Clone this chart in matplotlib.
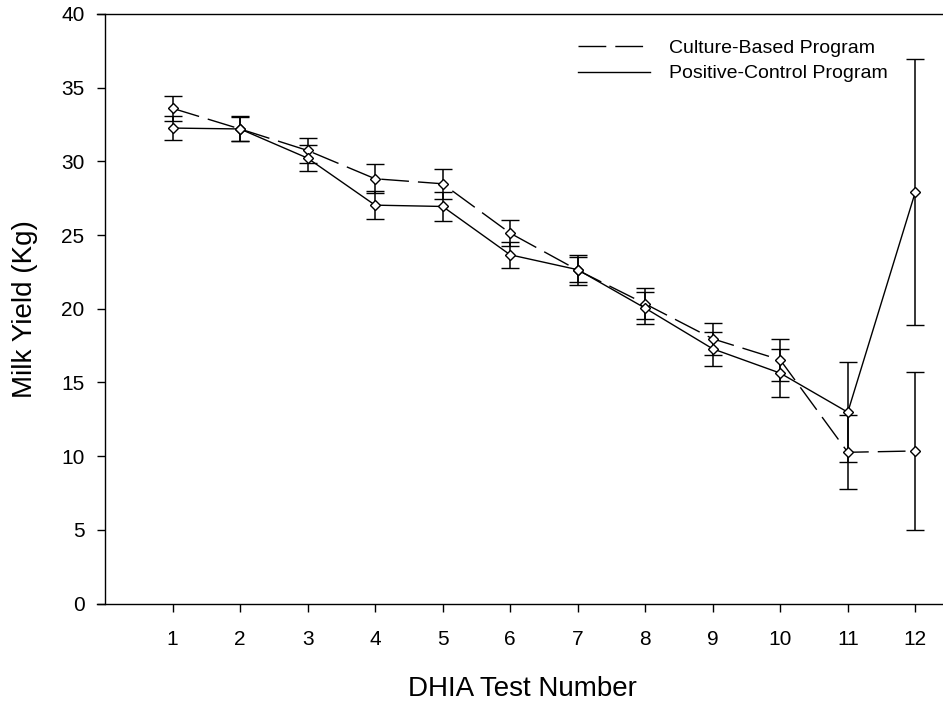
import matplotlib
matplotlib.use("Agg")
from matplotlib import pyplot as plt
from matplotlib.lines import Line2D
import numpy as np

plt.rcParams['font.family'] = ['Liberation Sans', 'DejaVu Sans']

# DHIA test numbers
tests = [1, 2, 3, 4, 5, 6, 7, 8, 9, 10, 11, 12]

# culture-based program (dashed)
culture = [33.6, 32.2, 30.74, 28.82, 28.48, 25.13, 22.62, 20.33, 17.96, 16.53, 10.26, 10.35]
culture_err = [0.83, 0.85, 0.88, 0.97, 1.0, 0.9, 1.02, 1.05, 1.1, 1.45, 2.5, 5.33]

# positive-control program (solid)
control = [32.26, 32.2, 30.22, 27.03, 26.94, 23.66, 22.65, 20.04, 17.28, 15.63, 12.98, 27.92]
control_err = [0.79, 0.8, 0.86, 0.97, 0.99, 0.9, 0.86, 1.08, 1.17, 1.62, 3.41, 9.02]

labels = ["Culture-Based Program", "Positive-Control Program"]

fig = plt.figure(figsize=(9.43, 7.04), dpi=100)
ax = fig.add_axes([105/943, (704-603.5)/704, 838/943, 589.5/704])

dash = (0, (20, 6.5))
ax.errorbar(tests, culture, yerr=culture_err, color="black", lw=1.0, ls=dash,
            marker="D", ms=4.6, mfc="white", mec="black", mew=1.0,
            elinewidth=1.1, capsize=6.5, capthick=1.1, zorder=3)
ax.errorbar(tests, control, yerr=control_err, color="black", lw=1.0, ls="-",
            marker="D", ms=4.6, mfc="white", mec="black", mew=1.0,
            elinewidth=1.1, capsize=6.5, capthick=1.1, zorder=3)

ax.set_xlim(0, 12.41)
ax.set_ylim(0, 40)
ax.set_xticks(tests)
ax.set_yticks(np.arange(0, 41, 5))
ax.tick_params(axis="both", direction="out", length=5.8, width=1.0, labelsize=15)
ax.tick_params(axis="x", pad=13)
ax.tick_params(axis="y", pad=9)

for s in ["top", "bottom", "right"]:
    ax.spines[s].set_visible(False)
ax.spines["left"].set_linewidth(1.0)
# top and bottom rules stick out past the left axis like the ticks
ext = 8 / 838
ax.plot([-ext, 1], [0, 0], transform=ax.transAxes, color="black", lw=1.0, clip_on=False)
ax.plot([-ext, 1], [1, 1], transform=ax.transAxes, color="black", lw=1.0, clip_on=False)

ax.set_xlabel("DHIA Test Number", fontsize=20)
ax.set_ylabel("Milk Yield (Kg)", fontsize=20)
ax.xaxis.set_label_coords(0.498, -0.123)
ax.yaxis.set_label_coords(-0.080, 0.5)

handles = [Line2D([], [], color="black", lw=1.0, ls=dash),
           Line2D([], [], color="black", lw=1.0, ls="-")]
ax.legend(handles, labels, loc="upper left", bbox_to_anchor=(578/943, 1 - 39/704),
          bbox_transform=fig.transFigure, frameon=False, fontsize=14,
          handlelength=3.72, handletextpad=0.95, labelspacing=0.42,
          borderpad=0, borderaxespad=0)

plt.savefig("out.png", dpi=100)
